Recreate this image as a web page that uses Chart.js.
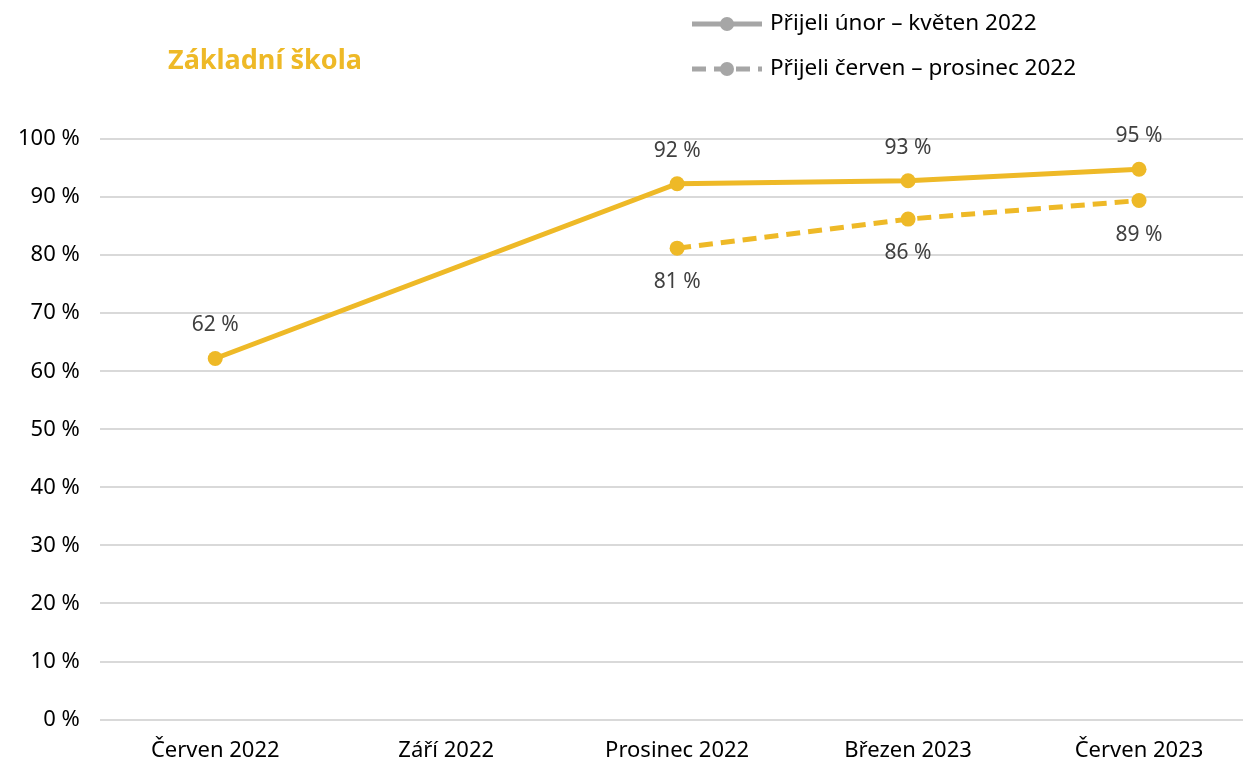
<!DOCTYPE html>
<html>

<head>
    <meta charset="utf-8">
    <title>Základní škola</title>
    <script src="https://cdn.jsdelivr.net/npm/chart.js"></script>
    <style>
        body { margin: 0; overflow: hidden; background: #fff; }
        #wrap { width: 1264px; height: 782px; margin-left: -2px; }
    </style>
</head>

<body>
    <div id="wrap"><canvas id="myChart"></canvas></div>
    <script>
    // data
    var categories = ['Červen 2022', 'Září 2022', 'Prosinec 2022', 'Březen 2023', 'Červen 2023'];
    var seriesNames = ['Přijeli únor – květen 2022', 'Přijeli červen – prosinec 2022'];
    var valuesFeb = [62.2, null, 92.3, 92.8, 94.8];
    var valuesJun = [null, null, 81.2, 86.2, 89.4];
    var yTicks = [0, 10, 20, 30, 40, 50, 60, 70, 80, 90, 100];

    var yellow = '#EEB927';
    var grey = '#A6A6A6';
    var font = '"Noto Sans", sans-serif';

    // labels on points + title + legend (canvas is shifted 2px left)
    var extras = {
        id: 'extras',
        afterDatasetsDraw: function (chart) {
            var ctx = chart.ctx;
            var dx = 2;
            ctx.save();
            ctx.font = '21px ' + font;
            ctx.fillStyle = '#404040';
            ctx.textAlign = 'center';
            ctx.textBaseline = 'middle';
            chart.data.datasets.forEach(function (ds, i) {
                var meta = chart.getDatasetMeta(i);
                meta.data.forEach(function (pt, j) {
                    var v = ds.data[j];
                    if (v === null) return;
                    var dy = i === 0 ? -33 : 34;
                    ctx.fillText(Math.round(v) + ' %', pt.x, pt.y + dy);
                });
            });

            // title
            ctx.font = 'bold 27px ' + font;
            ctx.fillStyle = yellow;
            ctx.textAlign = 'left';
            ctx.fillText('Základní škola', 168 + dx, 61);

            // legend
            var rows = [24, 69];
            rows.forEach(function (y, i) {
                ctx.strokeStyle = grey;
                ctx.lineWidth = 5;
                ctx.setLineDash(i === 0 ? [] : [14, 8]);
                ctx.beginPath();
                ctx.moveTo(692 + dx, y);
                ctx.lineTo(762 + dx, y);
                ctx.stroke();
                ctx.setLineDash([]);
                ctx.fillStyle = grey;
                ctx.beginPath();
                ctx.arc(727 + dx, y, 7, 0, Math.PI * 2);
                ctx.fill();
                ctx.font = '22.5px ' + font;
                ctx.fillStyle = '#000';
                ctx.fillText(seriesNames[i], 770 + dx, y);
            });
            ctx.restore();
        }
    };

    var ctx = document.getElementById('myChart').getContext('2d');
    var myChart = new Chart(ctx, {
        type: 'line',
        data: {
            labels: categories,
            datasets: [{
                label: seriesNames[0],
                data: valuesFeb,
                borderColor: yellow,
                backgroundColor: yellow,
                borderWidth: 5,
                pointRadius: 7.5,
                pointBorderWidth: 0,
                pointHoverRadius: 7.5,
                spanGaps: true
            }, {
                label: seriesNames[1],
                data: valuesJun,
                borderColor: yellow,
                backgroundColor: yellow,
                borderWidth: 5,
                borderDash: [14, 8],
                pointRadius: 7.5,
                pointBorderWidth: 0,
                pointHoverRadius: 7.5
            }]
        },
        options: {
            responsive: true,
            maintainAspectRatio: false,
            animation: false,
            layout: { padding: { top: 139, left: 0, right: 0, bottom: 0 } },
            plugins: {
                legend: { display: false },
                tooltip: { enabled: false }
            },
            scales: {
                x: {
                    offset: true,
                    grid: { display: false, drawTicks: false },
                    border: { display: false },
                    ticks: { color: '#000', font: { family: font, size: 22 }, padding: 18 }
                },
                y: {
                    min: 0,
                    max: 100,
                    afterBuildTicks: function (scale) {
                        scale.ticks = yTicks.map(function (v) { return { value: v }; });
                    },
                    grid: { color: '#D9D9D9', lineWidth: 2, drawTicks: false },
                    border: { display: false },
                    ticks: {
                        color: '#000',
                        font: { family: font, size: 22 },
                        padding: 20,
                        callback: function (v) { return v + ' %'; }
                    }
                }
            }
        },
        plugins: [extras]
    });
    </script>
</body>

</html>
